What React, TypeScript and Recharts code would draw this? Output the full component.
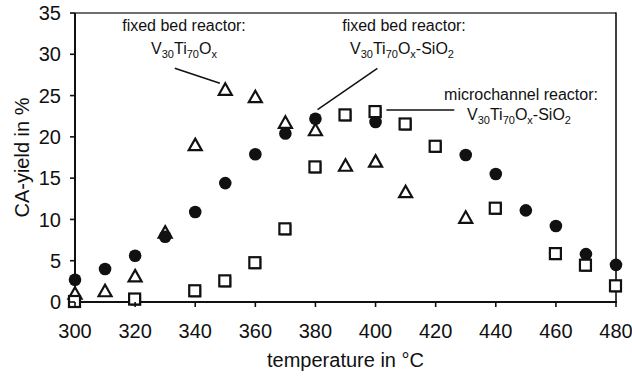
import React from 'react';
import {
  ScatterChart,
  Scatter,
  XAxis,
  YAxis,
  ReferenceLine,
  Customized,
} from 'recharts';

// ---- data ----
const circleTemps = [300, 310, 320, 330, 340, 350, 360, 370, 380, 400, 430, 440, 450, 460, 470, 480];
const circleYield = [2.7, 4.0, 5.6, 7.9, 10.9, 14.4, 17.9, 20.4, 22.2, 21.8, 17.8, 15.5, 11.1, 9.2, 5.8, 4.5];

const triangleTemps = [300, 310, 320, 330, 340, 350, 360, 370, 380, 390, 400, 410, 430];
const triangleYield = [1.0, 1.3, 3.1, 8.4, 19.0, 25.7, 24.8, 21.7, 20.8, 16.5, 17.0, 13.3, 10.2];

const squareTemps = [300, 320, 340, 350, 360, 370, 380, 390, 400, 410, 420, 440, 460, 470, 480];
const squareYield = [0.0, 0.3, 1.3, 2.5, 4.7, 8.8, 16.3, 22.6, 23.0, 21.5, 18.8, 11.3, 5.8, 4.4, 1.9];

const xTicks = [300, 320, 340, 360, 380, 400, 420, 440, 460, 480];
const yTicks = [0, 5, 10, 15, 20, 25, 30, 35];

const toPoints = (ts: number[], ys: number[]) => ts.map((t, i) => ({ t, y: ys[i] }));
const circles = toPoints(circleTemps, circleYield);
const triangles = toPoints(triangleTemps, triangleYield);
const squares = toPoints(squareTemps, squareYield);

const FONT = '"Liberation Sans", Arial, Helvetica, sans-serif';
const INK = '#111';
const W = 632;
const H = 377;
const MARGIN = { top: 13, right: 16, bottom: 0, left: 0 };
const Y_AXIS_W = 75;
const X_AXIS_H = 75;
const TICK_SIZE = 5;
const X_TICK_MARGIN = 17;
const Y_TICK_MARGIN = 9;

if (typeof document !== 'undefined') {
  document.body.style.margin = '0';
}

const CircleShape = (p: any) => <circle cx={p.cx} cy={p.cy} r={6.3} fill={INK} />;
const TriangleShape = (p: any) => (
  <path
    d={`M${p.cx},${p.cy - 6.5} L${p.cx + 6.5},${p.cy + 5} L${p.cx - 6.5},${p.cy + 5} Z`}
    fill="#fff"
    stroke={INK}
    strokeWidth={2.2}
  />
);
const SquareShape = (p: any) => (
  <g>
    <rect x={p.cx - 5} y={p.cy - 5} width={11} height={11} fill={INK} />
    <rect x={p.cx - 6} y={p.cy - 6} width={11} height={11} fill="#fff" stroke={INK} strokeWidth={2.2} />
  </g>
);

const XTick = (p: any) => {
  const { x, y, payload } = p;
  const axisY = y - TICK_SIZE - X_TICK_MARGIN;
  return (
    <g>
      <rect x={x - 0.8} y={axisY} width={1.6} height={TICK_SIZE} fill={INK} />
      <text x={x} y={y} dy="0.71em" textAnchor="middle" fill={INK} fontSize={20} fontFamily={FONT}>
        {payload.value}
      </text>
    </g>
  );
};

const YTick = (p: any) => {
  const { x, y, payload } = p;
  const axisX = x + TICK_SIZE + Y_TICK_MARGIN;
  return (
    <g>
      <rect x={axisX - TICK_SIZE} y={y - 0.8} width={TICK_SIZE} height={1.6} fill={INK} />
      <text x={x} y={y} dy="0.355em" textAnchor="end" fill={INK} fontSize={20} fontFamily={FONT}>
        {payload.value}
      </text>
    </g>
  );
};

const Formula = ({ x, y, silica }: { x: number; y: number; silica?: boolean }) => (
  <text x={x} y={y} textAnchor="middle" fontFamily={FONT} fontSize={16} fill={INK}>
    V<tspan fontSize={11} dy={4}>30</tspan>
    <tspan dy={-4}>Ti</tspan>
    <tspan fontSize={11} dy={4}>70</tspan>
    <tspan dy={-4}>O</tspan>
    <tspan fontSize={11} dy={4}>x</tspan>
    {silica ? <tspan dy={-4}>-SiO</tspan> : null}
    {silica ? <tspan fontSize={11} dy={4}>2</tspan> : null}
  </text>
);

const Frame = () => {
  const left = MARGIN.left + Y_AXIS_W;
  const top = MARGIN.top;
  const right = W - MARGIN.right;
  const bottom = H - MARGIN.bottom - X_AXIS_H;
  return (
    <g>
      <rect x={left - 1} y={top} width={2} height={bottom - top + 1} fill={INK} />
      <rect x={left - 1} y={bottom - 1} width={right - left + 2} height={2} fill={INK} />
      <rect x={left} y={top - 0.6} width={right - left} height={1.2} fill={INK} />
      <rect x={right - 0.8} y={top - 0.6} width={1.6} height={bottom - top + 1} fill={INK} />
    </g>
  );
};

const Annotations = () => (
  <g>
    <Frame />
    <text x={184} y={31} textAnchor="middle" fontFamily={FONT} fontSize={16} fill={INK}>
      fixed bed reactor:
    </text>
    <Formula x={184} y={54} />
    <text x={404} y={31} textAnchor="middle" fontFamily={FONT} fontSize={16} fill={INK}>
      fixed bed reactor:
    </text>
    <Formula x={402} y={54} silica />
    <text x={521} y={100} textAnchor="middle" fontFamily={FONT} fontSize={16} fill={INK}>
      microchannel reactor:
    </text>
    <Formula x={519} y={120} silica />
  </g>
);

export default function App() {
  return (
    <div style={{ width: W, height: H, background: '#fff' }}>
      <ScatterChart width={W} height={H} margin={MARGIN}>
        <XAxis
          type="number"
          dataKey="t"
          domain={[300, 480]}
          ticks={xTicks}
          height={X_AXIS_H}
          stroke={INK}
          strokeWidth={2}
          tickSize={TICK_SIZE}
          tickMargin={X_TICK_MARGIN}
          tickLine={false}
          tick={XTick}
          label={{
            value: 'temperature in °C',
            position: 'insideBottom',
            offset: 10,
            fill: INK,
            fontSize: 20,
            fontFamily: FONT,
          }}
        />
        <YAxis
          type="number"
          dataKey="y"
          domain={[0, 35]}
          ticks={yTicks}
          width={Y_AXIS_W}
          stroke={INK}
          strokeWidth={2}
          tickSize={TICK_SIZE}
          tickMargin={Y_TICK_MARGIN}
          tickLine={false}
          tick={YTick}
          label={{
            value: 'CA-yield in %',
            angle: -90,
            position: 'insideLeft',
            offset: 22,
            style: { textAnchor: 'middle' },
            fill: INK,
            fontSize: 20,
            fontFamily: FONT,
          }}
        />
        <ReferenceLine
          segment={[{ x: 333.2, y: 28.3 }, { x: 348.2, y: 26.5 }]}
          stroke={INK}
          strokeWidth={1.5}
          ifOverflow="visible"
        />
        <ReferenceLine
          segment={[{ x: 400.6, y: 28.3 }, { x: 380.7, y: 23.3 }]}
          stroke={INK}
          strokeWidth={1.5}
          ifOverflow="visible"
        />
        <ReferenceLine
          segment={[{ x: 426.2, y: 23.25 }, { x: 403.6, y: 23.25 }]}
          stroke={INK}
          strokeWidth={1.5}
          ifOverflow="visible"
        />
        <Scatter data={triangles} shape={TriangleShape} isAnimationActive={false} />
        <Scatter data={circles} shape={CircleShape} isAnimationActive={false} />
        <Scatter data={squares} shape={SquareShape} isAnimationActive={false} />
        <Customized component={<Annotations />} />
      </ScatterChart>
    </div>
  );
}
